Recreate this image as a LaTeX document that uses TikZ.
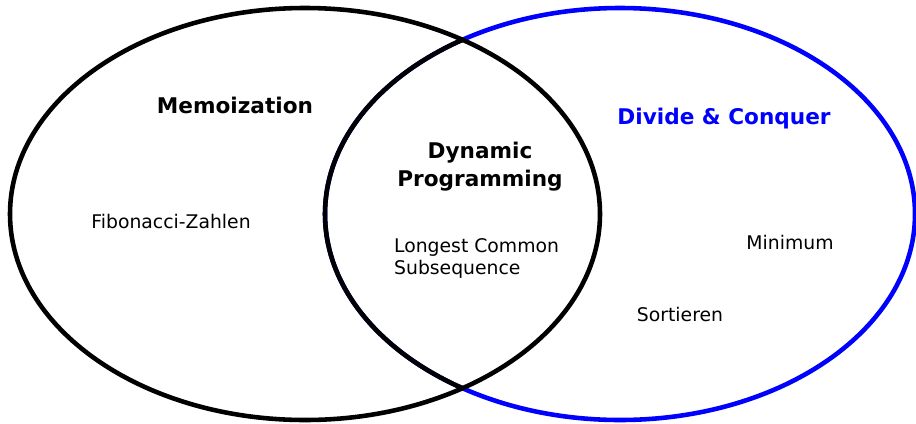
\documentclass[tikz,border=0pt]{standalone}
\usepackage{fontspec}
\setmainfont{DejaVu Sans}
\begin{document}
\begin{tikzpicture}[x=0.02cm,y=-0.02cm,line width=2.6pt,
	settitle/.style={font=\fontsize{12.3}{16}\selectfont\bfseries,align=center},
	setitem/.style={font=\fontsize{10.7}{13}\selectfont,align=left}]
	\useasboundingbox (0,0) rectangle (916,423);
	% the two sets
	\draw [blue] (620,214) ellipse [x radius=295, y radius=206];
	\draw [black] (305,214) ellipse [x radius=295, y radius=206];
	\begin{scope}
		\clip (305,214) ellipse [x radius=296, y radius=207];
		\draw [black] (620,214) ellipse [x radius=295, y radius=206];
	\end{scope}
	% labels
	\node [settitle] (memo) at (235,105) {Memoization};
	\node [settitle] (dp) at (480,167) {Dynamic\\Programming};
	\node [settitle,text=blue] (dac) at (724,119) {Divide \& Conquer};
	\node [setitem] (fib) at (171,221) {Fibonacci-Zahlen};
	\node [setitem,anchor=west] (lcs) at (386,258.5) {Longest Common\\Subsequence};
	\node [setitem] (min) at (790,242) {Minimum};
	\node [setitem] (sort) at (680,314) {Sortieren};
\end{tikzpicture}
\end{document}
